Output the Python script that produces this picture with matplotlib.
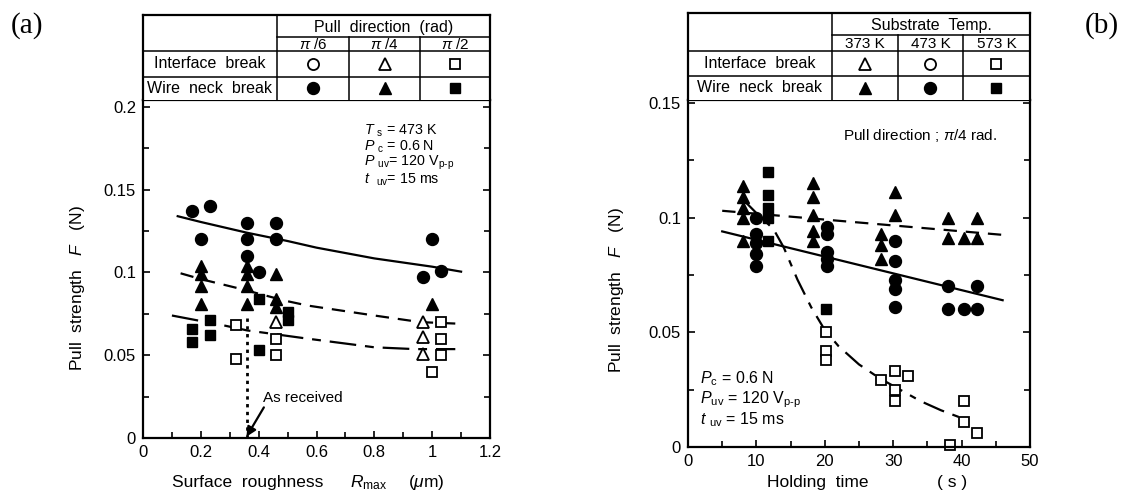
import matplotlib
matplotlib.use("Agg")
import matplotlib.pyplot as plt
from matplotlib.ticker import MultipleLocator, FuncFormatter

plt.rcParams['font.family'] = ['Liberation Sans', 'DejaVu Sans']
plt.rcParams['mathtext.fontset'] = 'custom'
plt.rcParams['mathtext.rm'] = 'Liberation Sans'
plt.rcParams['mathtext.it'] = 'Liberation Sans:italic'
plt.rcParams['mathtext.bf'] = 'Liberation Sans:bold'

# ---------------- (a) pull strength vs surface roughness ----------------
a_circ_f_x = [0.17, 0.23, 0.20, 0.36, 0.36, 0.36, 0.40, 0.46, 0.46, 1.00, 0.97, 1.03]
a_circ_f_y = [0.137, 0.140, 0.120, 0.130, 0.120, 0.110, 0.100, 0.130, 0.120, 0.120, 0.097, 0.101]

a_tri_f_x = [0.20, 0.20, 0.20, 0.20, 0.36, 0.36, 0.36, 0.36, 0.46, 0.46, 0.46, 1.00]
a_tri_f_y = [0.104, 0.099, 0.092, 0.081, 0.104, 0.099, 0.092, 0.081, 0.099, 0.084, 0.079, 0.081]

a_sq_f_x = [0.17, 0.17, 0.23, 0.23, 0.40, 0.40, 0.50, 0.50]
a_sq_f_y = [0.066, 0.058, 0.071, 0.062, 0.084, 0.053, 0.076, 0.071]

a_tri_o_x = [0.46, 0.97, 0.97, 0.97]
a_tri_o_y = [0.070, 0.070, 0.061, 0.051]

a_sq_o_x = [0.32, 0.32, 0.46, 0.46, 1.03, 1.03, 1.03, 1.00]
a_sq_o_y = [0.068, 0.048, 0.060, 0.050, 0.070, 0.060, 0.050, 0.040]

# trend curves
a_fit_pi6_x = [0.12, 0.20, 0.36, 0.50, 0.60, 0.80, 1.00, 1.10]
a_fit_pi6_y = [0.134, 0.1305, 0.124, 0.119, 0.115, 0.1085, 0.1035, 0.1005]
a_fit_pi4_x = [0.13, 0.20, 0.34, 0.49, 0.57, 0.80, 0.96, 1.10]
a_fit_pi4_y = [0.0995, 0.096, 0.090, 0.083, 0.080, 0.074, 0.070, 0.069]
a_fit_pi2_x = [0.10, 0.28, 0.36, 0.57, 0.80, 0.94, 1.08]
a_fit_pi2_y = [0.074, 0.068, 0.065, 0.060, 0.0548, 0.0537, 0.0537]

as_received_x = 0.358
as_received_top = 0.074

a_cols = ["$\\pi$ /6", "$\\pi$ /4", "$\\pi$ /2"]

# ---------------- (b) pull strength vs holding time ----------------
b_tri_f_x = [8, 8, 8, 8, 8, 18.3, 18.3, 18.3, 18.3, 18.3, 30.3, 30.3, 28.2, 28.2, 28.2,
             38, 38, 40.3, 42.2, 42.2]
b_tri_f_y = [0.114, 0.109, 0.104, 0.100, 0.090, 0.115, 0.109, 0.101, 0.094, 0.090,
             0.111, 0.101, 0.093, 0.088, 0.082, 0.100, 0.091, 0.091, 0.100, 0.091]

b_circ_f_x = [10, 10, 10, 10, 10, 20.3, 20.3, 20.3, 20.3, 20.3, 30.3, 30.3, 30.3, 30.3, 30.3,
              38, 38, 40.3, 42.2, 42.2]
b_circ_f_y = [0.100, 0.093, 0.089, 0.084, 0.079, 0.096, 0.093, 0.085, 0.082, 0.079,
              0.090, 0.081, 0.073, 0.069, 0.061, 0.070, 0.060, 0.060, 0.070, 0.060]

b_sq_f_x = [11.7, 11.7, 11.7, 11.7, 11.7, 20.2]
b_sq_f_y = [0.120, 0.110, 0.104, 0.100, 0.090, 0.060]

b_sq_o_x = [20.2, 20.2, 20.2, 28.2, 30.3, 30.3, 30.3, 32.2, 40.3, 40.3, 42.3, 38.3]
b_sq_o_y = [0.050, 0.042, 0.038, 0.029, 0.033, 0.025, 0.020, 0.031, 0.020, 0.011, 0.006, 0.001]

b_fit_373_x = [5, 46]
b_fit_373_y = [0.103, 0.0925]
b_fit_473_x = [5, 46]
b_fit_473_y = [0.094, 0.064]
b_fit_573_x = [8, 10, 12.5, 14, 16, 18, 20, 22, 25, 28, 31, 34, 37, 41]
b_fit_573_y = [0.108, 0.102, 0.095, 0.087, 0.073, 0.061, 0.051, 0.044, 0.036, 0.030,
               0.025, 0.020, 0.016, 0.0115]

b_cols = ["373 K", "473 K", "573 K"]

W, H = 1121, 500
fig = plt.figure(figsize=(W / 100, H / 100), dpi=100)


def rect(l, t, r, b):
    return [l / W, 1 - b / H, (r - l) / W, (b - t) / H]


FILLED = dict(color='black', linestyle='none', clip_on=False)
OPEN = dict(color='black', markerfacecolor='white', linestyle='none', markeredgewidth=1.3,
            clip_on=False)
MS = {'o': 8.6, '^': 9.3, 's': 7.2}
MS_OPEN = {'o': 8.0, '^': 8.8, 's': 7.6}


def style_axes(ax):
    for s in ax.spines.values():
        s.set_linewidth(1.6)
    ax.tick_params(which='both', direction='in', top=False, right=True, labelsize=12,
                   width=1.2, pad=5)
    ax.tick_params(which='major', length=5)
    ax.tick_params(which='minor', length=4)
    fmt = FuncFormatter(lambda v, p: f"{v:g}")
    ax.xaxis.set_major_formatter(fmt)
    ax.yaxis.set_major_formatter(fmt)


def draw_table(tax, col_x, row_y, header, cols, syms):
    # col_x: fractions of divider positions; row_y: fractions from top
    tax.set_xlim(0, 1)
    tax.set_ylim(1, 0)
    tax.set_xticks([])
    tax.set_yticks([])
    tax.spines['bottom'].set_visible(False)
    for s in ['left', 'right', 'top']:
        tax.spines[s].set_linewidth(1.6)
    c0, c1, c2 = col_x
    r0, r1, r2 = row_y
    lw = 1.1
    tax.plot([c0, c0], [0, 1], color='k', lw=lw)
    tax.plot([c1, c1], [r0, 1], color='k', lw=lw)
    tax.plot([c2, c2], [r0, 1], color='k', lw=lw)
    tax.plot([c0, 1], [r0, r0], color='k', lw=lw)
    tax.plot([0, 1], [r1, r1], color='k', lw=lw)
    tax.plot([0, 1], [r2, r2], color='k', lw=lw)
    tax.text((c0 + 1) / 2, r0 / 2 + 0.02, header, ha='center', va='center', fontsize=11.5)
    centers = [(c0 + c1) / 2, (c1 + c2) / 2, (c2 + 1) / 2]
    for cx, lab in zip(centers, cols):
        tax.text(cx, (r0 + r1) / 2 + 0.01, lab, ha='center', va='center', fontsize=11)
    tax.text(c0 / 2, (r1 + r2) / 2, "Interface  break", ha='center', va='center', fontsize=11.5)
    tax.text(c0 / 2, (r2 + 1) / 2, "Wire  neck  break", ha='center', va='center', fontsize=11.5)
    for cx, m in zip(centers, syms):
        tax.plot(cx, (r1 + r2) / 2, marker=m, ms=MS_OPEN[m], **OPEN)
        tax.plot(cx, (r2 + 1) / 2, marker=m, ms=MS[m], **FILLED)


# ----- panel (a) -----
axa = fig.add_axes(rect(143, 100, 490, 438))
axa.set_xlim(0, 1.2)
axa.set_ylim(0, 0.2042)
axa.xaxis.set_major_locator(MultipleLocator(0.2))
axa.xaxis.set_minor_locator(MultipleLocator(0.1))
axa.yaxis.set_major_locator(MultipleLocator(0.05))
axa.yaxis.set_minor_locator(MultipleLocator(0.025))
style_axes(axa)

axa.plot(a_fit_pi6_x, a_fit_pi6_y, color='k', lw=1.6)
axa.plot(a_fit_pi4_x, a_fit_pi4_y, color='k', lw=1.6, ls=(0, (6, 4)))
axa.plot(a_fit_pi2_x, a_fit_pi2_y, color='k', lw=1.6, ls=(0, (12, 4, 4, 4)))
axa.plot([as_received_x, as_received_x], [0, as_received_top], color='k', lw=2.0,
         ls=(0, (1.2, 1.6)))

axa.plot(a_circ_f_x, a_circ_f_y, marker='o', ms=MS['o'], **FILLED)
axa.plot(a_tri_f_x, a_tri_f_y, marker='^', ms=MS['^'], **FILLED)
axa.plot(a_sq_f_x, a_sq_f_y, marker='s', ms=MS['s'], **FILLED)
axa.plot(a_tri_o_x, a_tri_o_y, marker='^', ms=MS_OPEN['^'], **OPEN)
axa.plot(a_sq_o_x, a_sq_o_y, marker='s', ms=MS_OPEN['s'], **OPEN)

axa.text(0.415, 0.0242, "As received", fontsize=11, va='center', ha='left')
axa.annotate('', xy=(as_received_x, 0.0008), xytext=(0.418, 0.0185),
             arrowprops=dict(arrowstyle='-|>', lw=1.6, color='k', mutation_scale=14,
                             shrinkA=0, shrinkB=0))

ann_a = [r"$T$ $_{\rm s}$ = 473 K", r"$P$ $_{\rm c}$ = 0.6 N",
         r"$P$ $_{\rm uv}$= 120 V$_{\rm p\text{-}p}$", r"$t$  $_{\rm uv}$= 15 ms"]
for yv, s in zip([0.1856, 0.1760, 0.1660, 0.1562], ann_a):
    axa.text(0.765, yv, s, fontsize=10.3, va='center', ha='left')

tab_a = fig.add_axes(rect(143, 15, 490, 100))
draw_table(tab_a, (0.386, 0.594, 0.798), (0.259, 0.4235, 0.729),
           "Pull  direction  (rad)", a_cols, ['o', '^', 's'])

fig.text(78 / W, 1 - 288 / H, r"Pull  strength   $F$   (N)", rotation=90, ha='center',
         va='center', fontsize=12.5)
fig.text(248 / W, 1 - 483 / H, "Surface  roughness", ha='center', va='center', fontsize=12.5)
fig.text(369 / W, 1 - 483 / H, r"$R$$_{\rm max}$", ha='center', va='center', fontsize=12.5)
fig.text(426 / W, 1 - 483 / H, r"($\mu$m)", ha='center', va='center', fontsize=12.5)
fig.text(27 / W, 1 - 26 / H, "(a)", family='Liberation Serif', fontsize=21, ha='center',
         va='center')

# ----- panel (b) -----
axb = fig.add_axes(rect(688, 100, 1030, 447))
axb.set_xlim(0, 50)
axb.set_ylim(0, 0.1513)
axb.xaxis.set_major_locator(MultipleLocator(10))
axb.xaxis.set_minor_locator(MultipleLocator(5))
axb.yaxis.set_major_locator(MultipleLocator(0.05))
axb.yaxis.set_minor_locator(MultipleLocator(0.025))
style_axes(axb)

axb.plot(b_fit_373_x, b_fit_373_y, color='k', lw=1.6, ls=(0, (6, 4)))
axb.plot(b_fit_473_x, b_fit_473_y, color='k', lw=1.6)
axb.plot(b_fit_573_x, b_fit_573_y, color='k', lw=1.6, ls=(0, (10, 4, 3, 4)))

axb.plot(b_tri_f_x, b_tri_f_y, marker='^', ms=MS['^'], **FILLED)
axb.plot(b_circ_f_x, b_circ_f_y, marker='o', ms=MS['o'], **FILLED)
axb.plot(b_sq_f_x, b_sq_f_y, marker='s', ms=MS['s'], **FILLED)
axb.plot(b_sq_o_x, b_sq_o_y, marker='s', ms=MS_OPEN['s'], **OPEN)

axb.text(22.7, 0.136, r"Pull direction ; $\pi$/4 rad.", fontsize=11, va='center', ha='left')
ann_b = [r"$P$$_{\rm c}$ = 0.6 N", r"$P$$_{\rm uv}$ = 120 V$_{\rm p\text{-}p}$",
         r"$t$ $_{\rm uv}$ = 15 ms"]
for yv, s in zip([0.0297, 0.0206, 0.0118], ann_b):
    axb.text(1.7, yv, s, fontsize=11.5, va='center', ha='left')

tab_b = fig.add_axes(rect(688, 13, 1030, 100))
draw_table(tab_b, (0.421, 0.614, 0.804), (0.253, 0.437, 0.724),
           "Substrate  Temp.", b_cols, ['^', 'o', 's'])

fig.text(617 / W, 1 - 290 / H, r"Pull  strength   $F$   (N)", rotation=90, ha='center',
         va='center', fontsize=12.5)
fig.text(818 / W, 1 - 483 / H, "Holding  time", ha='center', va='center', fontsize=12.5)
fig.text(952 / W, 1 - 483 / H, "( s )", ha='center', va='center', fontsize=12.5)
fig.text(1102 / W, 1 - 26 / H, "(b)", family='Liberation Serif', fontsize=21, ha='center',
         va='center')

fig.savefig("out.png", dpi=100)
